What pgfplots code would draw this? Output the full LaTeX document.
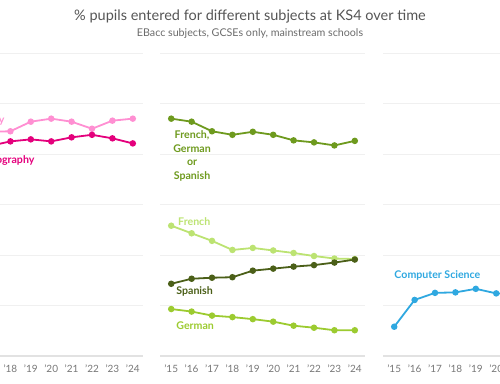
\documentclass[border=0pt]{standalone}
\usepackage{fontspec}
\setmainfont{Lato}
\usepackage{pgfplots}
\pgfplotsset{compat=1.18}
\definecolor{histc}{HTML}{FF8FD2}
\definecolor{geogc}{HTML}{E4007C}
\definecolor{fgsc}{HTML}{6E9A1E}
\definecolor{frenchc}{HTML}{BCE372}
\definecolor{spanishc}{HTML}{4B5F18}
\definecolor{germanc}{HTML}{9CCB30}
\definecolor{csc}{HTML}{2FA8E0}
\definecolor{gridc}{HTML}{F0F0F0}
\definecolor{basec}{HTML}{E2E2E2}
\definecolor{tickc}{HTML}{777777}
\definecolor{titlec}{HTML}{555555}
\tikzset{lab/.style={font=\fontsize{10.6}{13.8}\selectfont\bfseries}}
\pgfplotsset{panel/.style={
  scale only axis, width=205pt, height=303pt, anchor=south west,
  xmin=2014.45, xmax=2024.5, ymin=0, ymax=60,
  ytick={10,20,...,60}, yticklabels={},
  ymajorgrids, grid style={color=gridc, line width=0.8pt},
  axis line style={draw=none}, major tick length=0pt,
  xtick={2015,...,2024},
  xticklabels={'15,'16,'17,'18,'19,'20,'21,'22,'23,'24},
  xticklabel style={font=\fontsize{10}{11}\selectfont, text=tickc, yshift=-5pt},
  extra y ticks={0}, extra y tick labels={},
  extra y tick style={grid style={color=basec, line width=1.3pt}},
  clip=false,
  every axis plot post/.append style={line width=1.8pt, mark=*, mark size=2.3pt, mark options={solid}}
}}
\begin{document}
\begin{tikzpicture}[x=1pt,y=1pt]
\node[font=\fontsize{14.5}{16}\selectfont, text=titlec] at (250,367) {\% pupils entered for different subjects at KS4 over time};
\node[font=\fontsize{10.7}{12}\selectfont, text=tickc!90!black] at (250,349) {EBacc subjects, GCSEs only, mainstream schools};
% Left panel (its left part lies beyond the picture's edge)
\begin{axis}[panel, at={(-62pt,27pt)}, xticklabels={,,,'18,'19,'20,'21,'22,'23,'24}]
\addplot[color=histc] coordinates {(2015,41.0) (2016,42.5) (2017,44.4) (2018,44.5) (2019,46.4) (2020,47.0) (2021,46.4) (2022,45.0) (2023,46.6) (2024,47.0)};
\addplot[color=geogc] coordinates {(2015,37.5) (2016,39.5) (2017,41.6) (2018,42.5) (2019,42.9) (2020,42.5) (2021,43.3) (2022,43.8) (2023,43.1) (2024,42.1)};
\node[lab, text=histc, anchor=east] at (axis cs:2017.88,46.7) {History};
\node[lab, text=geogc, anchor=east] at (axis cs:2019.35,38.8) {Geography};
\end{axis}
% Middle panel
\begin{axis}[panel, at={(160pt,27pt)}]
\addplot[color=fgsc] coordinates {(2015,47.0) (2016,46.4) (2017,44.5) (2018,43.8) (2019,44.4) (2020,43.8) (2021,42.7) (2022,42.3) (2023,41.7) (2024,42.6)};
\addplot[color=frenchc] coordinates {(2015,25.8) (2016,24.3) (2017,22.8) (2018,21.0) (2019,21.4) (2020,20.9) (2021,20.4) (2022,19.8) (2023,19.3) (2024,19.2)};
\addplot[color=spanishc] coordinates {(2015,14.3) (2016,15.3) (2017,15.5) (2018,15.6) (2019,16.9) (2020,17.3) (2021,17.7) (2022,18.0) (2023,18.5) (2024,19.1)};
\addplot[color=germanc] coordinates {(2015,9.3) (2016,8.8) (2017,8.0) (2018,7.7) (2019,7.3) (2020,6.8) (2021,6.0) (2022,5.6) (2023,5.1) (2024,5.1)};
\node[lab, text=fgsc, align=center] at (axis cs:2016.02,39.6) {French,\\German\\or\\Spanish};
\node[lab, text=frenchc, anchor=west] at (axis cs:2015.17,26.7) {French};
\node[lab, text=spanishc, anchor=west] at (axis cs:2015.08,12.7) {Spanish};
\node[lab, text=germanc, anchor=west] at (axis cs:2015.08,6.1) {German};
\end{axis}
% Right panel (its right part lies beyond the picture's edge)
\begin{axis}[panel, at={(383pt,27pt)}, xticklabels={'15,'16,'17,'18,'19,'20,,,,}]
\addplot[color=csc] coordinates {(2015,5.8) (2016,11.1) (2017,12.5) (2018,12.6) (2019,13.3) (2020,12.4) (2021,12.2) (2022,12.0) (2023,12.4) (2024,12.8)};
\node[lab, text=csc, anchor=west] at (axis cs:2014.84,16.0) {Computer Science};
\end{axis}
\pgfresetboundingbox
\useasboundingbox (0,0) rectangle (500,383);
\end{tikzpicture}
\end{document}
